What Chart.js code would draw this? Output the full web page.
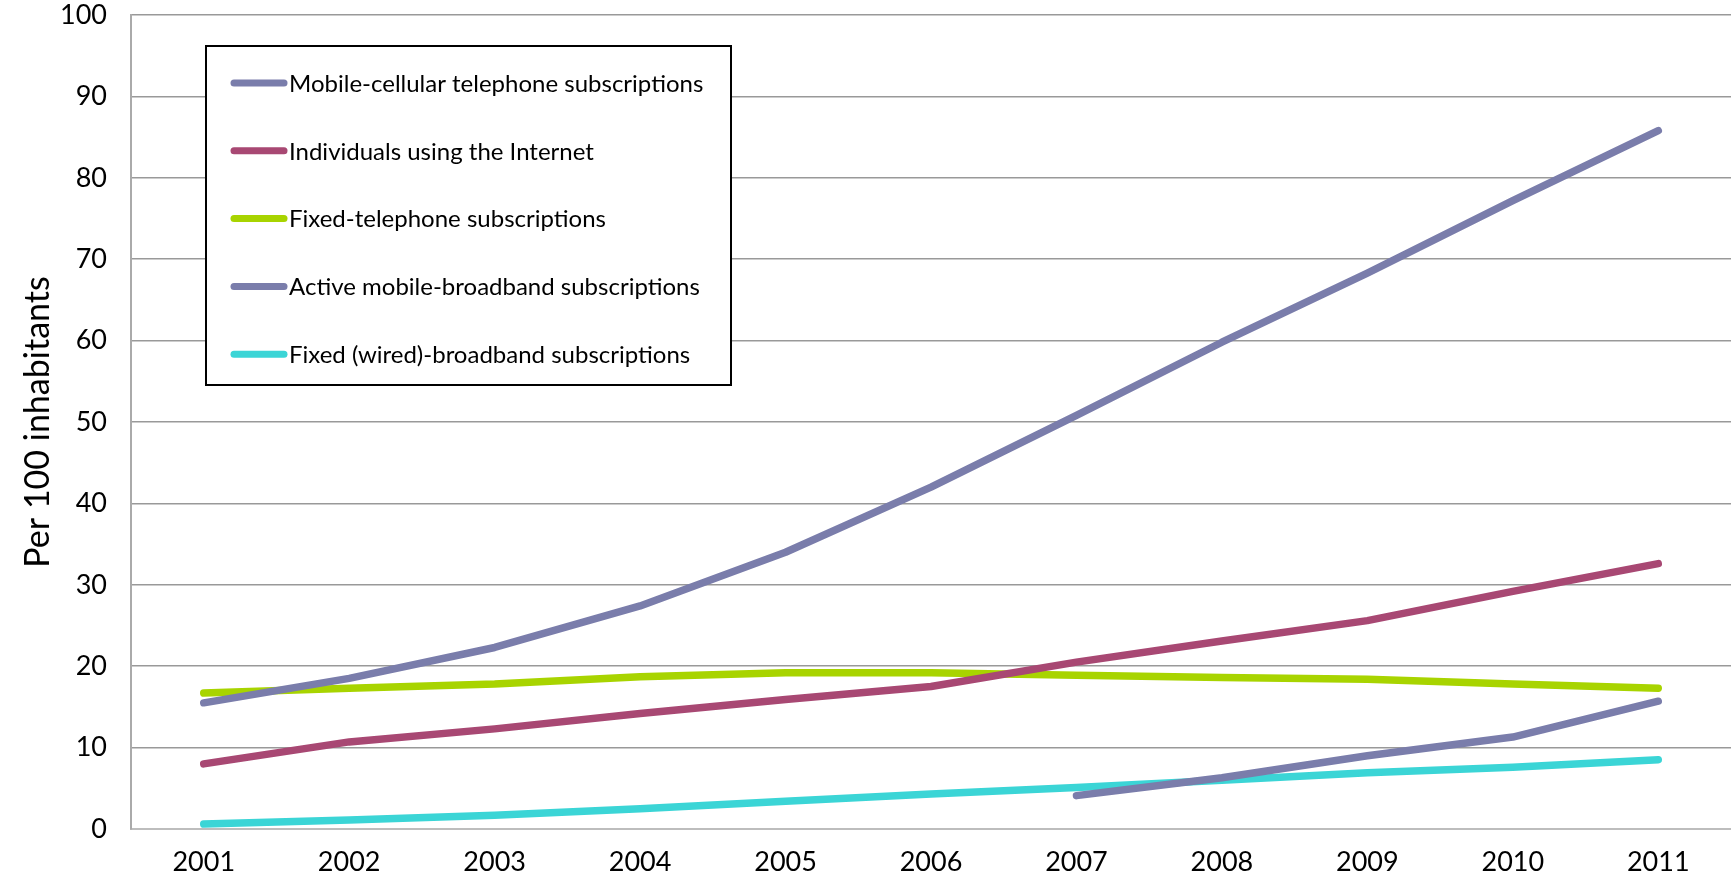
<!DOCTYPE html>
<html>
<head>
<meta charset="utf-8">
<script src="https://cdn.jsdelivr.net/npm/chart.js@4/dist/chart.umd.min.js"></script>
<style>
  html, body { margin: 0; padding: 0; background: #fff; }
  #wrap { width: 1731px; height: 887px; }
</style>
</head>
<body>
<div id="wrap"><canvas id="chart" width="1731" height="887"></canvas></div>
<script>
const years = ["2001", "2002", "2003", "2004", "2005", "2006", "2007", "2008", "2009", "2010", "2011"];
const mobileCellular = [15.5, 18.5, 22.3, 27.4, 34.0, 42.0, 50.8, 59.8, 68.3, 77.2, 85.8];
const internetUsers = [8.0, 10.7, 12.3, 14.2, 15.9, 17.5, 20.5, 23.1, 25.6, 29.2, 32.6];
const fixedTelephone = [16.7, 17.3, 17.8, 18.7, 19.2, 19.2, 18.9, 18.6, 18.4, 17.8, 17.3];
const mobileBroadband = [null, null, null, null, null, null, 4.1, 6.3, 9.0, 11.3, 15.7];
const fixedBroadband = [0.6, 1.1, 1.7, 2.5, 3.4, 4.3, 5.1, 6.0, 6.9, 7.6, 8.5];
const yTicks = [0, 10, 20, 30, 40, 50, 60, 70, 80, 90, 100];

const FONT = "Lato, 'Open Sans', sans-serif";

const series = [
  { label: "Mobile-cellular telephone subscriptions", data: mobileCellular, color: "#7a7dab" },
  { label: "Individuals using the Internet", data: internetUsers, color: "#a84873" },
  { label: "Fixed-telephone subscriptions", data: fixedTelephone, color: "#a8d400" },
  { label: "Active mobile-broadband subscriptions", data: mobileBroadband, color: "#7a7dab" },
  { label: "Fixed (wired)-broadband subscriptions", data: fixedBroadband, color: "#3bd5d6" },
];

// legend box drawn inside the plot like the original
const boxLegend = {
  id: "boxLegend",
  afterDraw(chart) {
    const ctx = chart.ctx;
    const x0 = 206, y0 = 46, w = 525, h = 339;
    ctx.save();
    ctx.fillStyle = "#fff";
    ctx.fillRect(x0, y0, w, h);
    ctx.strokeStyle = "#000";
    ctx.lineWidth = 2;
    ctx.strokeRect(x0, y0, w, h);
    ctx.font = "24px " + FONT;
    ctx.textBaseline = "middle";
    chart.data.datasets.forEach((ds, i) => {
      const y = 83 + i * 67.8;
      ctx.strokeStyle = ds.borderColor;
      ctx.lineWidth = 7;
      ctx.lineCap = "round";
      ctx.beginPath();
      ctx.moveTo(234, y);
      ctx.lineTo(284, y);
      ctx.stroke();
      ctx.fillStyle = "#000";
      ctx.fillText(ds.label, 289, y + 1);
    });
    ctx.restore();
  }
};

new Chart(document.getElementById("chart"), {
  type: "line",
  data: {
    labels: years,
    datasets: series.map(s => ({
      label: s.label,
      data: s.data,
      borderColor: s.color,
      backgroundColor: s.color,
      borderWidth: 7.5,
      borderCapStyle: "round",
      borderJoinStyle: "round",
      pointRadius: 0,
      tension: 0,
      spanGaps: false,
    })),
  },
  options: {
    responsive: false,
    animation: false,
    layout: { padding: 0 },
    plugins: {
      legend: { display: false },
      tooltip: { enabled: false },
    },
    scales: {
      x: {
        offset: true,
        grid: { display: false, drawTicks: false },
        border: { color: "#bdbdbd", width: 2 },
        ticks: { color: "#000", font: { family: FONT, size: 27 }, padding: 17, maxRotation: 0 },
        afterFit: s => { s.height = 58; },
      },
      y: {
        min: 0,
        max: 100,
        afterBuildTicks: s => { s.ticks = yTicks.map(v => ({ value: v })); },
        grid: { color: "#999", lineWidth: 1.5, drawTicks: false },
        border: { color: "#aaa", width: 2 },
        ticks: { color: "#000", font: { family: FONT, size: 27 }, padding: 24 },
        title: {
          display: true,
          text: "Per 100 inhabitants",
          color: "#000",
          font: { family: FONT, size: 34 },
          padding: { top: 18, bottom: 0 },
        },
        afterFit: s => { s.width = 131; s.paddingTop = 15; s.paddingBottom = 0; },
      },
    },
  },
  plugins: [boxLegend],
});
</script>
</body>
</html>
